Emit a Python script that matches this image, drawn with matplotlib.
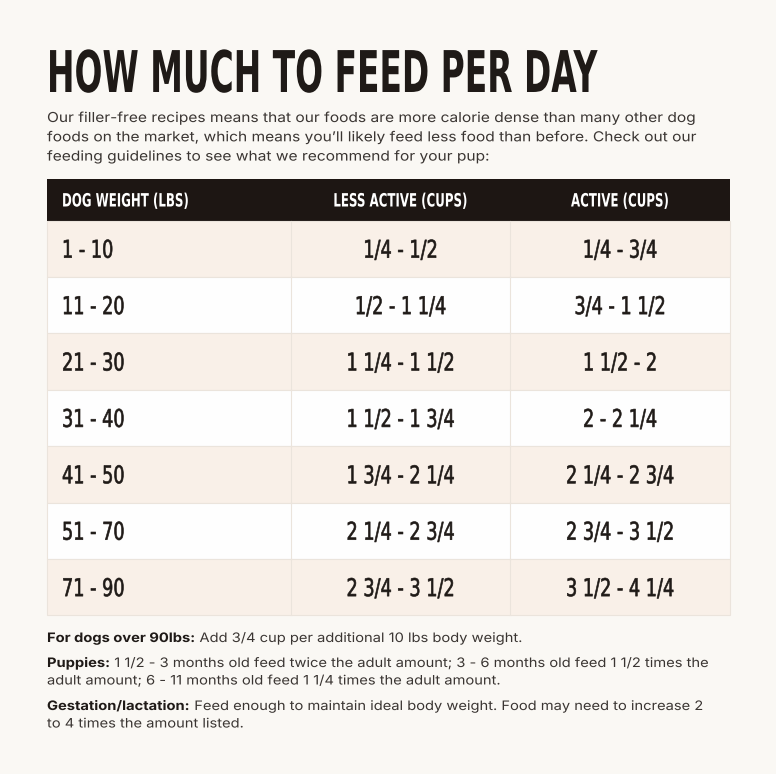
import matplotlib
matplotlib.use("Agg")
import matplotlib.pyplot as plt
from matplotlib import font_manager
from matplotlib.patches import Rectangle
from matplotlib.patheffects import AbstractPathEffect
from matplotlib.transforms import Affine2D

# data
title = "HOW MUCH TO FEED PER DAY"
intro = [
    "Our filler-free recipes means that our foods are more calorie dense than many other dog",
    "foods on the market, which means you\u2019ll likely feed less food than before. Check out our",
    "feeding guidelines to see what we recommend for your pup:",
]
headers = ["DOG WEIGHT (LBS)", "LESS ACTIVE (CUPS)", "ACTIVE (CUPS)"]
weights = ["1 - 10", "11 - 20", "21 - 30", "31 - 40", "41 - 50", "51 - 70", "71 - 90"]
less_active = ["1/4 - 1/2", "1/2 - 1 1/4", "1 1/4 - 1 1/2", "1 1/2 - 1 3/4",
               "1 3/4 - 2 1/4", "2 1/4 - 2 3/4", "2 3/4 - 3 1/2"]
active = ["1/4 - 3/4", "3/4 - 1 1/2", "1 1/2 - 2", "2 - 2 1/4",
          "2 1/4 - 2 3/4", "2 3/4 - 3 1/2", "3 1/2 - 4 1/4"]
note_leads = ["For dogs over 90lbs:", "Puppies:", "Gestation/lactation:"]
note_lines = [
    ["Add 3/4 cup per additional 10 lbs body weight."],
    ["1 1/2 - 3 months old feed twice the adult amount; 3 - 6 months old feed 1 1/2 times the",
     "adult amount; 6 - 11 months old feed 1 1/4 times the adult amount."],
    ["Feed enough to maintain ideal body weight. Food may need to increase 2",
     "to 4 times the amount listed."],
]

names = {f.name for f in font_manager.fontManager.ttflist}
narrow = "DejaVu Sans"
body = "Inter" if "Inter" in names else "DejaVu Sans"

bg = "#faf8f4"
dark = "#1d1613"
ink = "#1f1a17"
grey = "#3a3532"
cream = "#f9f0e8"
white = "#fefefe"
line = "#ebe4dc"


class Stretch(AbstractPathEffect):
    """Scale the glyph outlines about an anchor point (gives a condensed look),
    optionally with a thin outline to thicken the strokes a bit."""

    def __init__(self, sx, sy, anchor, stroke=0.0):
        super().__init__()
        self.sx, self.sy = sx, sy
        self.anchor = anchor
        self.stroke = stroke

    def draw_path(self, renderer, gc, tpath, affine, rgbFace=None):
        cx, cy = self.anchor
        t = affine + Affine2D().translate(-cx, -cy).scale(self.sx, self.sy).translate(cx, cy)
        gc0 = renderer.new_gc()
        gc0.copy_properties(gc)
        if self.stroke > 0:
            gc0.set_linewidth(self.stroke)
            gc0.set_foreground(rgbFace)
            gc0.set_joinstyle("round")
        renderer.draw_path(gc0, tpath, t, rgbFace)
        gc0.restore()


fig = plt.figure(figsize=(7.76, 7.74), dpi=100, facecolor=bg)
ax = fig.add_axes([0, 0, 1, 1])
ax.set_xlim(0, 776)
ax.set_ylim(774, 0)
ax.axis("off")
fig.canvas.draw()
renderer = fig.canvas.get_renderer()


def raw_width(s, **kw):
    t = ax.text(0, 0, s, **kw)
    w = t.get_window_extent(renderer).width
    t.remove()
    return w


def put(x, y, s, sx, sy=1.0, ha="left", stroke=0.0, **kw):
    t = ax.text(x, y, s, ha=ha, va="baseline", **kw)
    t.set_path_effects([Stretch(sx, sy, ax.transData.transform((x, y)), stroke)])
    return t


# title
tkw = dict(family=narrow, fontweight="bold", fontsize=30, color=ink)
title_sx = 551 / raw_width(title, **tkw)
put(47, 92, title, title_sx, 1.38, **tkw)

# intro paragraph
pkw = dict(family=body, fontsize=9.9, color=grey)
para_sx = 646 / raw_width(intro[0], **pkw)
for i, s in enumerate(intro):
    put(47, 122 + i * 19.3, s, para_sx, **pkw)

# table geometry
left, right = 47, 730
col_edges = [47, 291, 510, 730]
top, head_h = 179, 41.5
row_h = 56.4

ax.add_patch(Rectangle((left, top), right - left, head_h, facecolor=dark, edgecolor="none"))
hkw = dict(family=narrow, fontweight="bold", fontsize=13.2, color="white")
head_sx = 127 / raw_width(headers[0], **hkw)
head_base = 206.5
put(62, head_base, headers[0], head_sx, **hkw)
for j in (1, 2):
    put((col_edges[j] + col_edges[j + 1]) / 2, head_base, headers[j], head_sx, ha="center", **hkw)

ckw = dict(family=narrow, fontweight="normal", fontsize=17.6, color=ink)
cell_sx = 108 / raw_width("1 3/4 - 2 1/4", **ckw)
y0 = top + head_h
for i in range(len(weights)):
    y = y0 + i * row_h
    fc = cream if i % 2 == 0 else white
    ax.add_patch(Rectangle((left, y), right - left, row_h, facecolor=fc,
                           edgecolor=line, linewidth=0.8))
    for x in col_edges[1:3]:
        ax.plot([x, x], [y, y + row_h], color=line, linewidth=0.8)
    base = y + row_h / 2 + 9
    put(62, base, weights[i], cell_sx, stroke=0.45, **ckw)
    put((col_edges[1] + col_edges[2]) / 2, base, less_active[i], cell_sx, ha="center",
        stroke=0.45, **ckw)
    put((col_edges[2] + col_edges[3]) / 2, base, active[i], cell_sx, ha="center",
        stroke=0.45, **ckw)

# footnotes: bold lead-in then regular text
bkw = dict(family=body, fontweight="bold", fontsize=9.4, color=ink)
nkw = dict(family=body, fontsize=9.4, color=grey)
gap = 4
note_sx = (657 - gap) / (raw_width(note_leads[1], **bkw) + raw_width(note_lines[1][0], **nkw))
note_base = [642, 667, 710]
for lead, lines, nb in zip(note_leads, note_lines, note_base):
    put(47, nb, lead, note_sx, **bkw)
    x_after = 47 + raw_width(lead, **bkw) * note_sx + gap
    put(x_after, nb, lines[0], note_sx, **nkw)
    for k, s in enumerate(lines[1:]):
        put(47, nb + 17.5 * (k + 1), s, note_sx, **nkw)

fig.savefig("out.png", dpi=100, facecolor=bg)
